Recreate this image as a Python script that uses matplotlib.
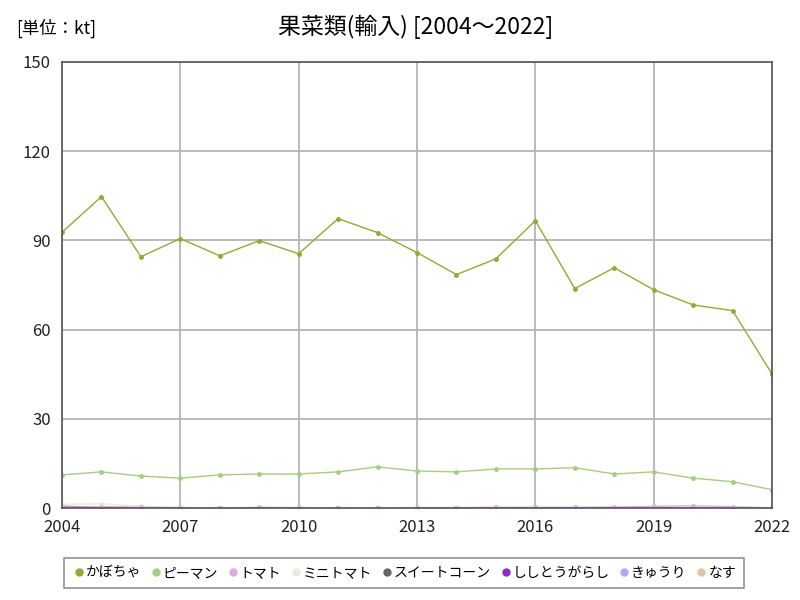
import numpy as np
import matplotlib.pyplot as plt
from matplotlib.lines import Line2D

plt.rcParams['font.family'] = ['Noto Sans CJK JP', 'DejaVu Sans']

years = list(range(2004, 2023))

kabocha = [92.7, 104.7, 84.5, 90.6, 84.8, 89.9, 85.5, 97.3, 92.6, 85.9,
           78.5, 83.8, 96.6, 73.8, 80.8, 73.4, 68.3, 66.4, 45.1]
piman = [11.2, 12.2, 10.8, 10.1, 11.2, 11.5, 11.5, 12.2, 13.9, 12.5,
         12.2, 13.2, 13.2, 13.6, 11.5, 12.2, 10.1, 8.9, 6.2]
tomato = [0.4, 0.5, 0.3, 0.2, 0.1, 0.3, 0.2, 0.1, 0.1, 0.2,
          0.2, 0.3, 0.3, 0.3, 0.4, 0.6, 0.8, 0.5, 0.1]
minitomato = [1.3, 1.5, 0.6, 0.2, 0.1, 0.1, 0.1, 0.1, 0.0, 0.0,
              0.0, 0.0, 0.0, 0.0, 0.0, 0.0, 0.0, 0.0, 0.0]
sweetcorn = [0.6, 0.4, 0.1, 0.0, 0.0, 0.0, 0.0, 0.0, 0.0, 0.0,
             0.0, 0.0, 0.0, 0.0, 0.0, 0.0, 0.0, 0.0, 0.0]
shishito = [0.1, 0.1, 0.1, 0.1, 0.1, 0.1, 0.1, 0.1, 0.1, 0.1,
            0.1, 0.1, 0.1, 0.1, 0.1, 0.1, 0.1, 0.1, 0.1]
kyuri = [0.0, 0.0, 0.0, 0.0, 0.0, 0.0, 0.0, 0.0, 0.0, 0.0,
         0.0, 0.0, 0.0, 0.0, 0.0, 0.0, 0.0, 0.0, 0.0]
nasu = [0.3, 0.3, 0.2, 0.1, 0.1, 0.1, 0.1, 0.1, 0.1, 0.1,
        0.1, 0.1, 0.1, 0.1, 0.1, 0.1, 0.1, 0.1, 0.0]

names = ['かぼちゃ', 'ピーマン', 'トマト', 'ミニトマト', 'スイートコーン', 'ししとうがらし', 'きゅうり', 'なす']
colors = ['#8cae32', '#a8cc84', '#d8aee0', '#efe6de', '#646464', '#8a2cc8', '#b9a4f0', '#dcc6a6']
series = [kabocha, piman, tomato, minitomato, sweetcorn, shishito, kyuri, nasu]

fig = plt.figure(figsize=(8, 6), dpi=100)
ax = fig.add_axes([0.0775, 0.153, 0.8875, 0.744])

# small series first so the big ones sit on top
for name, vals, c in reversed(list(zip(names, series, colors))):
    ax.plot(years, vals, color=c, lw=1, marker='o', ms=2.5, label=name)

ax.set_xlim(2004, 2022)
ax.set_ylim(0, 150)
ax.set_xticks([2004, 2007, 2010, 2013, 2016, 2019, 2022])
ax.set_yticks([0, 30, 60, 90, 120, 150])
ax.grid(True, color='#b4b4b4', lw=1.3)
ax.set_axisbelow(True)
for s in ax.spines.values():
    s.set_color('#555555')
    s.set_linewidth(1.2)
ax.tick_params(length=0, labelsize=12, pad=8, colors='#222222')

fig.text(0.52, 0.955, '果菜類(輸入) [2004～2022]', ha='center', va='center', fontsize=16.5)
fig.text(0.02, 0.953, '[単位：kt]', ha='left', va='center', fontsize=12.5)

handles = [Line2D([], [], color=c, marker='o', ls='', ms=5) for c in colors]
leg = fig.legend(handles, names, loc='center', bbox_to_anchor=(0.505, 0.045), ncol=8,
                 fontsize=10, frameon=True, fancybox=False, handletextpad=0.0,
                 columnspacing=0.55, handlelength=1.0, borderpad=0.6)
leg.get_frame().set_edgecolor('#777777')
leg.get_frame().set_linewidth(1.2)

fig.savefig('out.png')
